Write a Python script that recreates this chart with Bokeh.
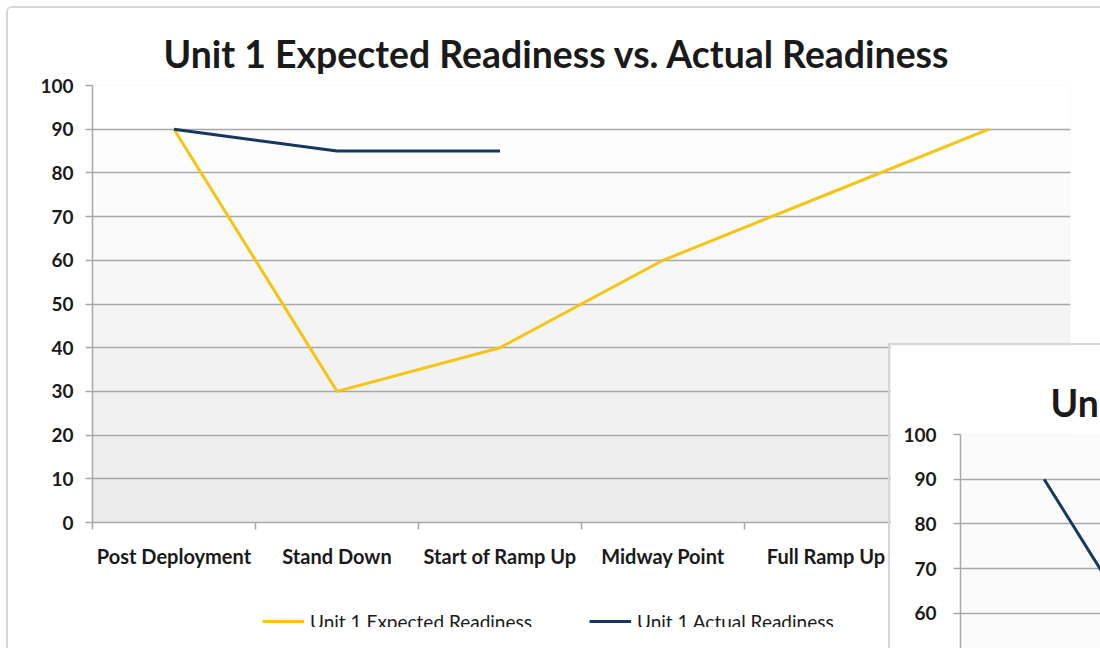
from bokeh.plotting import figure
from bokeh.models import (Range1d, FixedTicker, Legend, LegendItem, BoxAnnotation, GridBox)
from bokeh.embed import file_html
from bokeh.resources import INLINE

# ---------------- data ----------------
categories = ["Post Deployment", "Stand Down", "Start of Ramp Up",
              "Midway Point", "Full Ramp Up", "Deployment"]
unit1_expected = [90, 30, 40, 60, 75, 90]
unit1_actual = [90, 85, 85]
unit2_actual = [90, 30]
y_ticks = [0, 10, 20, 30, 40, 50, 60, 70, 80, 90, 100]
legend_labels = ["Unit 1 Expected Readiness", "Unit 1 Actual Readiness"]

title1 = "Unit 1 Expected Readiness vs. Actual Readiness"
title2 = "Unit 2 Expected Readiness vs. Actual Readiness"

YELLOW = "#F5C414"
NAVY = "#17375E"
GRID = "#a8a8a8"
FONT = "Lato"

x_pos = [i + 0.5 for i in range(len(categories))]
bounds = [i for i in range(len(categories) + 1)]


def gradient_bands(p):
    # subtle vertical gradient in the plot area (white at top, light grey at bottom)
    n = len(y_ticks) - 1
    for i in range(n):
        t = i / (n - 1)
        g = int(round(0xec + (0xff - 0xec) * t))
        col = "#%02x%02x%02x" % (g, g, g)
        p.add_layout(BoxAnnotation(bottom=y_ticks[i], top=y_ticks[i + 1],
                                   fill_color=col, fill_alpha=1.0,
                                   line_color=None, level="image"))


def style_y(p, standoff):
    p.yaxis.ticker = FixedTicker(ticks=y_ticks)
    p.yaxis.axis_line_color = GRID
    p.yaxis.axis_line_width = 1.5
    p.yaxis.major_tick_line_color = GRID
    p.yaxis.major_tick_line_width = 1.5
    p.yaxis.major_tick_out = 7
    p.yaxis.major_tick_in = 0
    p.yaxis.minor_tick_line_color = None
    p.yaxis.major_label_text_font = FONT
    p.yaxis.major_label_text_font_style = "bold"
    p.yaxis.major_label_text_font_size = "19px"
    p.yaxis.major_label_text_color = "#1a1a1a"
    p.yaxis.major_label_standoff = standoff
    p.ygrid.ticker = FixedTicker(ticks=y_ticks)
    p.ygrid.grid_line_color = GRID
    p.ygrid.grid_line_width = 1.5
    p.xgrid.grid_line_color = None


def style_title(p, text, offset):
    p.title.text = text
    p.title.align = "left"
    p.title.offset = offset
    p.title.text_font = FONT
    p.title.text_font_style = "bold"
    p.title.text_font_size = "37.4px"
    p.title.text_color = "#1a1a1a"
    p.title.standoff = 20


# ---------------- main chart ----------------
p = figure(width=1092, height=640, output_backend="svg", toolbar_location=None,
           x_range=Range1d(0, len(categories)), y_range=Range1d(0, 100),
           frame_width=976, frame_height=435,
           min_border_left=84, min_border_right=32, min_border_top=77,
           min_border_bottom=128, margin=(6, 0, 0, 6),
           styles={"border-left": "2px solid #d6d6d6", "border-top": "2px solid #d6d6d6",
                   "border-top-left-radius": "6px"})
p.background_fill_color = "#f5f5f5"
p.border_fill_color = "white"
p.outline_line_color = None
style_title(p, title1, 71)

gradient_bands(p)
style_y(p, 12)

p.xaxis.ticker = FixedTicker(ticks=x_pos, minor_ticks=bounds)
p.xaxis.major_label_overrides = {x: c for x, c in zip(x_pos, categories)}
p.xaxis.axis_line_color = GRID
p.xaxis.axis_line_width = 1.5
p.xaxis.major_tick_line_color = None
p.xaxis.major_tick_out = 0
p.xaxis.minor_tick_line_color = GRID
p.xaxis.minor_tick_line_width = 1.5
p.xaxis.minor_tick_out = 7
p.xaxis.minor_tick_in = 0
p.xaxis.major_label_text_font = FONT
p.xaxis.major_label_text_font_style = "bold"
p.xaxis.major_label_text_font_size = "20px"
p.xaxis.major_label_text_color = "#1a1a1a"
p.xaxis.major_label_standoff = 14

p.line(x_pos, unit1_expected, line_color=YELLOW, line_width=3)
p.line(x_pos[:len(unit1_actual)], unit1_actual, line_color=NAVY, line_width=3)

# ---------------- legend strip (below the main plot area) ----------------
pl = figure(width=628, height=64, output_backend="svg", toolbar_location=None,
            title=None, x_axis_location=None, y_axis_location=None,
            x_range=Range1d(-10, -9), y_range=Range1d(-10, -9),
            min_border_left=0, min_border_right=0, min_border_top=0, min_border_bottom=0)
pl.grid.grid_line_color = None
pl.outline_line_color = None
pl.background_fill_alpha = 0
pl.border_fill_alpha = 0
le = pl.line(x_pos, unit1_expected, line_color=YELLOW, line_width=3)
la = pl.line(x_pos[:len(unit1_actual)], unit1_actual, line_color=NAVY, line_width=3)
legend = Legend(items=[LegendItem(label=legend_labels[0], renderers=[le]),
                       LegendItem(label=legend_labels[1], renderers=[la])],
                orientation="horizontal", location="top_left",
                glyph_width=42, glyph_height=28, label_height=28,
                label_standoff=6, spacing=57,
                border_line_color=None, background_fill_alpha=0,
                label_text_font=FONT, label_text_font_size="19px",
                label_text_color="#1a1a1a", margin=2, padding=4)
pl.add_layout(legend, "center")

# ---------------- overlapping second chart (partly visible) ----------------
px_per_cat = 165.0
fw2 = 140
fh2 = 214
y_lo = 100 - fh2 / 44.3 * 10
p2 = figure(width=210, height=303, output_backend="svg", toolbar_location=None,
            x_range=Range1d(0, fw2 / px_per_cat), y_range=Range1d(y_lo, 100),
            frame_width=fw2, frame_height=fh2,
            min_border_left=70, min_border_right=0, min_border_top=89,
            min_border_bottom=0,
            styles={"border-left": "2px solid #d6d6d6", "border-top": "2px solid #d6d6d6"})
p2.background_fill_color = "#fbfbfb"
p2.border_fill_color = "white"
p2.outline_line_color = None
style_title(p2, title2, 90)
style_y(p2, 17)
p2.xaxis.visible = False
p2.line(x_pos[:len(unit2_actual)], unit2_actual, line_color=NAVY, line_width=3)

layout = GridBox(children=[(p, 0, 0, 3, 3), (pl, 2, 1, 1, 1), (p2, 1, 2, 2, 1)],
                 rows=["343px", "241px", "64px"], cols=["260px", "628px", "212px"],
                 spacing=0)
open("out.html", "w").write(file_html(layout, INLINE))
